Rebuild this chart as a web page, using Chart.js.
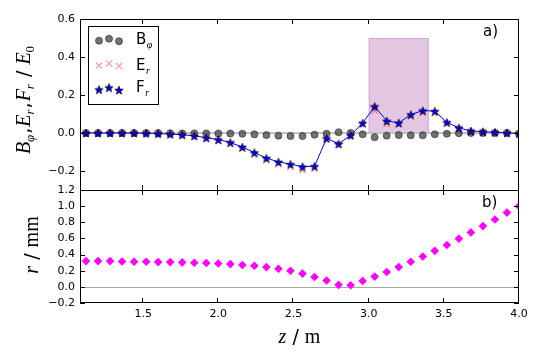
<!DOCTYPE html>
<html>
<head>
<meta charset="utf-8">
<script src="https://cdn.jsdelivr.net/npm/chart.js@4"></script>
<style>
  html, body { margin: 0; padding: 0; background: #fff; }
  #wrap { position: relative; width: 540px; height: 360px; }
  #top { position: absolute; left: 0; top: 0; z-index: 2; }
  #bot { position: absolute; left: 0; top: 180px; z-index: 1; }
</style>
</head>
<body>
<div id="wrap">
  <canvas id="bot" width="540" height="180"></canvas>
  <canvas id="top" width="540" height="202"></canvas>
</div>
<script>
// z positions along the line (m)
const zPos = [1.12, 1.20, 1.28, 1.36, 1.44, 1.52, 1.60, 1.68, 1.76, 1.84,
  1.92, 2.00, 2.08, 2.16, 2.24, 2.32, 2.40, 2.48, 2.56, 2.64,
  2.72, 2.80, 2.88, 2.96, 3.04, 3.12, 3.20, 3.28, 3.36, 3.44,
  3.52, 3.60, 3.68, 3.76, 3.84, 3.92, 4.00];

// panel a) fields normalised to E0
const bPhi = [0, 0, 0, 0, 0, 0, 0, -0.001, -0.002, -0.002,
  -0.002, -0.003, -0.003, -0.004, -0.007, -0.011, -0.014, -0.016, -0.016, -0.009,
  -0.004, 0.004, 0.0, -0.007, -0.022, -0.014, -0.011, -0.012, -0.012, -0.007,
  -0.004, -0.001, 0, 0, 0, 0, -0.003];
const eR = [0, 0, 0, 0, 0, -0.001, -0.003, -0.007, -0.011, -0.017,
  -0.028, -0.04, -0.056, -0.082, -0.112, -0.143, -0.165, -0.178, -0.195, -0.188,
  -0.03, -0.06, -0.013, 0.046, 0.118, 0.047, 0.045, 0.087, 0.107, 0.104,
  0.05, 0.024, 0.01, 0.006, 0.003, 0.001, -0.003];
const fR = [0, 0, 0, 0, 0, -0.001, -0.003, -0.006, -0.009, -0.015,
  -0.025, -0.035, -0.05, -0.074, -0.103, -0.132, -0.152, -0.164, -0.177, -0.175,
  -0.028, -0.057, -0.012, 0.052, 0.14, 0.064, 0.053, 0.097, 0.118, 0.115,
  0.056, 0.027, 0.011, 0.007, 0.004, 0.001, -0.003];

// panel b) radius (mm)
const rMm = [0.319, 0.319, 0.319, 0.315, 0.311, 0.311, 0.307, 0.307, 0.303, 0.299,
  0.295, 0.29, 0.282, 0.27, 0.262, 0.245, 0.225, 0.2, 0.164, 0.123,
  0.078, 0.025, 0.02, 0.074, 0.127, 0.184, 0.245, 0.311, 0.376, 0.446,
  0.519, 0.597, 0.675, 0.753, 0.834, 0.92, 0.998];

const xTicks = [1.5, 2.0, 2.5, 3.0, 3.5, 4.0];
const yTicksTop = [-0.2, 0.0, 0.2, 0.4, 0.6];
const yTicksBot = [-0.2, 0.0, 0.2, 0.4, 0.6, 0.8, 1.0, 1.2];
const boxZ = [3.0, 3.4];
const boxF = [0.0, 0.5];

const pts = arr => zPos.map((z, i) => ({ x: z, y: arr[i] }));
const fmt = v => (v < 0 ? '\u2212' : '') + Math.abs(v).toFixed(1);

Chart.defaults.font.family = 'DejaVu Sans';
Chart.defaults.font.size = 11;
Chart.defaults.color = '#000';

// filled five point star used as marker
function starImg(r) {
  const c = document.createElement('canvas');
  const s = Math.ceil(2 * r + 3);
  c.width = s; c.height = s;
  const g = c.getContext('2d');
  g.beginPath();
  for (let i = 0; i < 10; i++) {
    const rr = i % 2 ? r * 0.42 : r;
    const a = -Math.PI / 2 + i * Math.PI / 5;
    g.lineTo(s / 2 + rr * Math.cos(a), s / 2 + 0.6 + rr * Math.sin(a));
  }
  g.closePath();
  g.fillStyle = '#0000ff'; g.fill();
  g.lineWidth = 0.7; g.strokeStyle = '#000'; g.stroke();
  return c;
}
const star = starImg(4.4);

const itF = 'italic 20px "Liberation Serif"';
const subF = 'italic 13px "Liberation Serif"';
const sansF = '19px "DejaVu Sans"';
const rmF = '20px "Liberation Serif"';

function drawRuns(ctx, runs, cx, cy, rot) {
  ctx.save();
  ctx.translate(cx, cy);
  ctx.rotate(rot);
  ctx.textBaseline = 'alphabetic';
  ctx.textAlign = 'left';
  ctx.fillStyle = '#000';
  let w = 0;
  runs.forEach(r => { ctx.font = r.f; r.w = ctx.measureText(r.t).width + (r.gap || 0); w += r.w; });
  let x = -w / 2;
  runs.forEach(r => { ctx.font = r.f; ctx.fillText(r.t, x, r.dy || 0); x += r.w; });
  ctx.restore();
}

function drawFrame(chart, yTicks, skipBottom) {
  const { ctx, chartArea: a, scales: { x, y } } = chart;
  ctx.save();
  ctx.strokeStyle = '#000';
  ctx.lineWidth = 1;
  ctx.beginPath();
  xTicks.forEach(v => {
    const p = Math.round(x.getPixelForValue(v)) - 0.5;
    ctx.moveTo(p, a.top); ctx.lineTo(p, a.top + 5);
    ctx.moveTo(p, a.bottom); ctx.lineTo(p, a.bottom - 5);
  });
  yTicks.forEach(v => {
    const p = Math.round(y.getPixelForValue(v)) + 0.5;
    ctx.moveTo(a.left, p); ctx.lineTo(a.left + 5, p);
    ctx.moveTo(a.right, p); ctx.lineTo(a.right - 5, p);
  });
  ctx.moveTo(a.left + 0.5, a.bottom); ctx.lineTo(a.left + 0.5, a.top + 0.5);
  ctx.lineTo(a.right - 0.5, a.top + 0.5); ctx.lineTo(a.right - 0.5, a.bottom);
  if (!skipBottom) { ctx.moveTo(a.left, a.bottom - 0.5); ctx.lineTo(a.right, a.bottom - 0.5); }
  ctx.stroke();
  ctx.restore();
}

const topDeco = {
  id: 'topDeco',
  beforeDatasetsDraw(chart) {
    const { ctx, chartArea: a, scales: { x, y } } = chart;
    ctx.save();
    const x0 = x.getPixelForValue(boxZ[0]), x1 = x.getPixelForValue(boxZ[1]);
    const y0 = y.getPixelForValue(boxF[1]), y1 = y.getPixelForValue(boxF[0]);
    ctx.fillStyle = 'rgba(128,0,128,0.22)';
    ctx.fillRect(x0, y0, x1 - x0, y1 - y0);
    ctx.strokeStyle = 'rgba(128,0,128,0.18)';
    ctx.strokeRect(x0 + 0.5, y0 + 0.5, x1 - x0 - 1, y1 - y0 - 1);
    const yz = y.getPixelForValue(0);
    ctx.strokeStyle = '#c2c2c2';
    ctx.lineWidth = 2;
    ctx.beginPath(); ctx.moveTo(a.left, yz); ctx.lineTo(a.right, yz); ctx.stroke();
    ctx.restore();
  },
  afterDraw(chart) {
    const { ctx, chartArea: a } = chart;
    drawFrame(chart, yTicksTop, true);
    ctx.save();
    // legend
    const lx = a.left + 8, ly = 26;
    ctx.fillStyle = '#fff';
    ctx.fillRect(lx, ly, 71, 79);
    ctx.strokeStyle = '#000'; ctx.lineWidth = 1;
    ctx.strokeRect(lx + 0.5, ly + 0.5, 70, 78);
    const mx = [lx + 11, lx + 21, lx + 31], dy = [0, -2, 0.5];
    mx.forEach((px, i) => {
      const py = ly + 14.7 + dy[i];
      ctx.beginPath(); ctx.arc(px, py, 3.5, 0, 2 * Math.PI);
      ctx.fillStyle = 'rgba(70,70,70,0.75)'; ctx.fill();
      ctx.strokeStyle = 'rgba(40,40,40,0.8)'; ctx.lineWidth = 0.8; ctx.stroke();
      const qy = ly + 39.5 + dy[i], d = 3.2;
      ctx.beginPath();
      ctx.moveTo(px - d, qy - d); ctx.lineTo(px + d, qy + d);
      ctx.moveTo(px - d, qy + d); ctx.lineTo(px + d, qy - d);
      ctx.strokeStyle = 'rgba(255,80,80,0.6)'; ctx.lineWidth = 1.2; ctx.stroke();
      const sy = ly + 63.5 + dy[i];
      ctx.drawImage(star, px - star.width / 2, sy - star.height / 2);
    });
    ctx.fillStyle = '#000';
    ctx.textBaseline = 'alphabetic';
    const names = ['B', 'E', 'F'], subs = ['\u03c6', 'r', 'r'], base = [44, 69.5, 92];
    names.forEach((n, i) => {
      ctx.font = '15px "DejaVu Sans"';
      ctx.fillText(n, lx + 48, base[i]);
      const w = ctx.measureText(n).width;
      ctx.font = 'italic 10px "Liberation Serif"';
      ctx.fillText(subs[i], lx + 48 + w + 0.5, base[i] + 4);
    });
    ctx.font = '15px "DejaVu Sans"';
    ctx.fillText('a)', 483, 36);
    ctx.restore();
    drawRuns(ctx, [
      { t: 'B', f: itF }, { t: '\u03c6', f: subF, dy: 4, gap: 1 }, { t: ',', f: sansF, gap: 1 },
      { t: 'E', f: itF }, { t: 'r', f: subF, dy: 4, gap: 1 }, { t: ',', f: sansF, gap: 1 },
      { t: 'F', f: itF }, { t: 'r', f: subF, dy: 4, gap: 1 }, { t: ' / ', f: sansF },
      { t: 'E', f: itF }, { t: '0', f: '13px "Liberation Serif"', dy: 4 }
    ], 30, 100, -Math.PI / 2);
  }
};

const botDeco = {
  id: 'botDeco',
  beforeDatasetsDraw(chart) {
    const { ctx, chartArea: a, scales: { y } } = chart;
    const yz = Math.round(y.getPixelForValue(0)) + 0.5;
    ctx.save();
    ctx.strokeStyle = '#a8a8a8'; ctx.lineWidth = 1;
    ctx.beginPath(); ctx.moveTo(a.left, yz); ctx.lineTo(a.right, yz); ctx.stroke();
    ctx.restore();
  },
  afterDraw(chart) {
    const { ctx, chartArea: a } = chart;
    drawFrame(chart, yTicksBot, false);
    ctx.save();
    ctx.fillStyle = '#000';
    ctx.font = '15px "DejaVu Sans"';
    ctx.textBaseline = 'alphabetic';
    ctx.fillText('b)', 482, 27);
    ctx.restore();
    drawRuns(ctx, [{ t: 'z', f: itF }, { t: ' / ', f: sansF }, { t: 'm', f: rmF }],
      (a.left + a.right) / 2, 163, 0);
    drawRuns(ctx, [{ t: 'r', f: itF }, { t: ' / ', f: sansF }, { t: 'mm', f: rmF }],
      38, 65, -Math.PI / 2);
  }
};

// fixed-width y axis; the label overhang padding is dropped so plot edges stay put
const yAxis = (min, max, ticks) => ({
  type: 'linear', min: min, max: max,
  afterFit: s => { s.width = 80; s.paddingTop = 0; s.paddingBottom = 0; },
  afterBuildTicks: s => { s.ticks = ticks.map(v => ({ value: v })); },
  grid: { display: false, drawTicks: false },
  border: { display: false },
  ticks: { padding: 5, autoSkip: false, callback: fmt }
});

new Chart(document.getElementById('top'), {
  type: 'scatter',
  data: {
    datasets: [
      {
        label: 'B_phi', data: pts(bPhi), order: 3,
        pointStyle: 'circle', pointRadius: 3.5,
        pointBackgroundColor: 'rgba(70,70,70,0.75)',
        pointBorderColor: 'rgba(40,40,40,0.8)', pointBorderWidth: 0.8
      },
      {
        label: 'E_r', data: pts(eR), order: 2,
        pointStyle: 'crossRot', pointRadius: 4.5,
        pointBorderColor: 'rgba(255,80,80,0.6)', pointBorderWidth: 1.2
      },
      {
        label: 'F_r', data: pts(fR), order: 1, showLine: true,
        borderColor: '#0000ff', borderWidth: 1,
        pointStyle: star, pointRadius: 4.4
      }
    ]
  },
  options: {
    responsive: false, animation: false, events: [],
    layout: { autoPadding: false, padding: { left: 0, right: 21, top: 19, bottom: 12 } },
    plugins: { legend: { display: false }, tooltip: { enabled: false } },
    scales: {
      x: {
        type: 'linear', min: 1.08, max: 4.0,
        afterFit: s => { s.height = 0; },
        grid: { display: false, drawTicks: false },
        border: { display: false },
        ticks: { display: false, padding: 0 }
      },
      y: yAxis(-0.3, 0.6, yTicksTop)
    }
  },
  plugins: [topDeco]
});

new Chart(document.getElementById('bot'), {
  type: 'scatter',
  data: {
    datasets: [
      {
        label: 'r', data: pts(rMm),
        pointStyle: 'rectRot', pointRadius: 4.3,
        pointBackgroundColor: '#ff00ff', pointBorderWidth: 0
      }
    ]
  },
  options: {
    responsive: false, animation: false, events: [],
    layout: { autoPadding: false, padding: { left: 0, right: 21, top: 10, bottom: 0 } },
    plugins: { legend: { display: false }, tooltip: { enabled: false } },
    scales: {
      x: {
        type: 'linear', min: 1.08, max: 4.0,
        afterFit: s => { s.height = 57; },
        afterBuildTicks: s => { s.ticks = xTicks.map(v => ({ value: v })); },
        grid: { display: false, drawTicks: false },
        border: { display: false },
        ticks: { padding: 5, autoSkip: false, maxRotation: 0, callback: fmt }
      },
      y: yAxis(-0.2, 1.2, yTicksBot)
    }
  },
  plugins: [botDeco]
});
</script>
</body>
</html>
